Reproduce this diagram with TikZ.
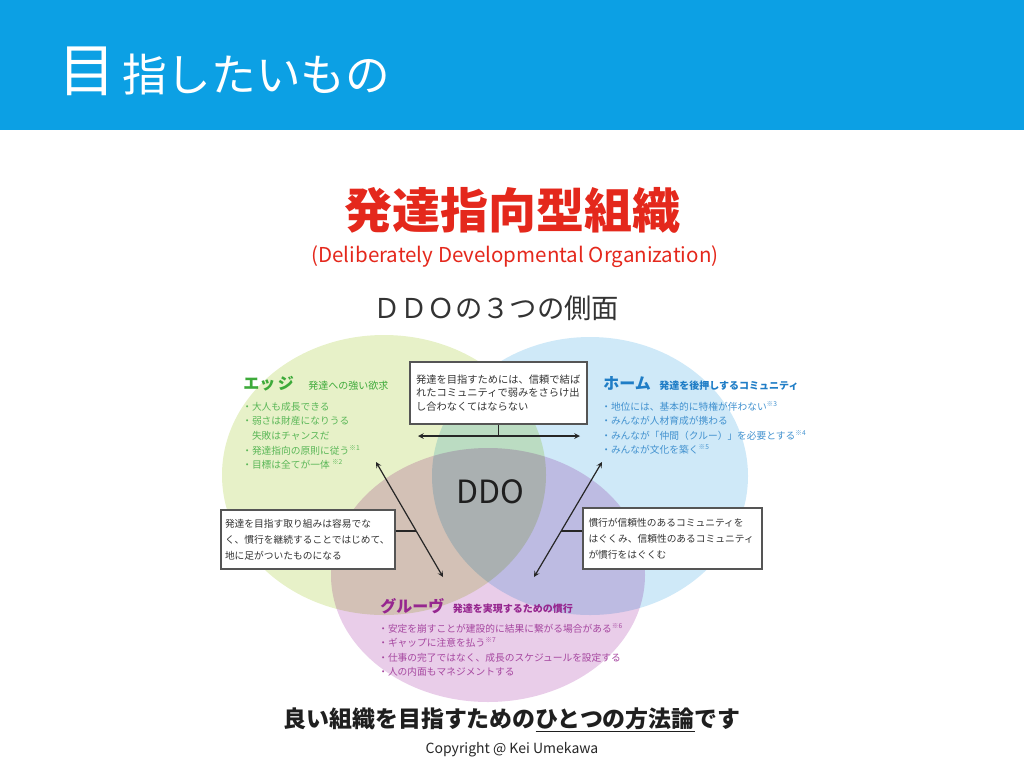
\documentclass[tikz,border=0pt]{standalone}
\usepackage{fontspec}
\setmainfont{Noto Sans CJK JP}
\usepackage{xcolor}
\usetikzlibrary{positioning,calc}

\definecolor{headblue}{HTML}{0CA0E4}
\definecolor{titlered}{HTML}{E4281C}
\definecolor{edgefill}{HTML}{E7F1C8}
\definecolor{homefill}{HTML}{CFE9F8}
\definecolor{groovefill}{HTML}{E9CDE9}
\definecolor{edgeink}{HTML}{3DAA3A}
\definecolor{homeink}{HTML}{1F7DC6}
\definecolor{grooveink}{HTML}{96268F}
\definecolor{boxline}{HTML}{555555}

\tikzset{
  notebox/.style={draw=boxline, fill=white, line width=0.8pt, inner sep=0pt,
    align=left, font=\fontsize{7.3}{12}\selectfont, text=black!80},
  dbl/.style={<->, >=stealth, line width=0.9pt, black!85},
  bullets/.style={anchor=north west, align=left, inner sep=0pt,
    font=\fontsize{7.3}{10.9}\selectfont},
}

\begin{document}
\begin{tikzpicture}[x=0.75pt,y=-0.75pt]
  \useasboundingbox (0,0) rectangle (1024,768);

  % header band
  \fill[headblue] (0,0) rectangle (1024,130);
  \node[white, anchor=base west, inner sep=0pt, font=\fontsize{43}{43}\selectfont] (headbig) at (58,91) {目};
  \node[white, anchor=base west, inner sep=0pt, font=\fontsize{33.5}{33.5}\selectfont] (headrest) at ($(headbig.base east)+(6,0)$) {指したいもの};

  % titles
  \node[titlered, font=\bfseries\fontsize{36}{36}\selectfont] (maintitle) at (512,210) {発達指向型組織};
  \node[titlered, font=\fontsize{15.4}{15.4}\selectfont] (subtitle) at (515,257) {(Deliberately Developmental Organization)};
  \node[black!80, font=\fontsize{20.5}{20.5}\selectfont] (aspects) at (496,308) {ＤＤＯの３つの側面};

  % three circles
  \begin{scope}[blend mode=multiply]
    \fill[edgefill] (384,475) ellipse [x radius=162, y radius=140];
    \fill[homefill] (590,476) ellipse [x radius=158, y radius=139];
    \fill[groovefill] (488,575) ellipse [x radius=157, y radius=127];
  \end{scope}

  \node[black!88, font=\fontsize{24}{24}\selectfont] (ddo) at (490,492) {DDO};

  % edge
  \node[edgeink, anchor=base west, inner sep=0pt, font=\bfseries\fontsize{12}{12}\selectfont] (edgetitle) at (243,389) {エッ\,ジ};
  \node[edgeink, anchor=base west, inner sep=0pt, font=\fontsize{7.5}{7.5}\selectfont] (edgesub) at ($(edgetitle.base east)+(14,0)$) {発達への強い欲求};
  \node[bullets, edgeink!85] (edgelist) at (242,402) {・大人も成長できる\\・弱さは財産になりうる\\\phantom{・}失敗はチャンスだ\\・発達指向の原則に従う\textsuperscript{\tiny ※1}\\・目標は全てが一体 \textsuperscript{\tiny ※2}};

  % home
  \node[homeink, anchor=base west, inner sep=0pt, font=\bfseries\fontsize{12}{12}\selectfont] (hometitle) at (603,389) {ホーム};
  \node[homeink, anchor=base west, inner sep=0pt, font=\bfseries\fontsize{7.5}{7.5}\selectfont] (homesub) at ($(hometitle.base east)+(8,0)$) {発達を後押しするコミュニティ};
  \node[bullets, homeink!85] (homelist) at (601,401) {・地位には、基本的に特権が伴わない\textsuperscript{\tiny ※3}\\・みんなが人材育成が携わる\\・みんなが「仲間（クルー）」を必要とする\textsuperscript{\tiny ※4}\\・みんなが文化を築く\textsuperscript{\tiny ※5}};

  % groove
  \node[grooveink, anchor=base west, inner sep=0pt, font=\bfseries\fontsize{12}{12}\selectfont] (groovetitle) at (380,612) {グルーヴ};
  \node[grooveink, anchor=base west, inner sep=0pt, font=\bfseries\fontsize{7.5}{7.5}\selectfont] (groovesub) at ($(groovetitle.base east)+(8,0)$) {発達を実現するための慣行};
  \node[bullets, grooveink!85] (groovelist) at (378,623) {・安定を崩すことが建設的に結果に繋がる場合がある\textsuperscript{\tiny ※6}\\・ギャップに注意を払う\textsuperscript{\tiny ※7}\\・仕事の完了ではなく、成長のスケジュールを設定する\\・人の内面もマネジメントする};

  % note boxes
  \node[notebox, minimum width={177*0.75pt}, minimum height={62*0.75pt}, text width={165*0.75pt},
    font=\fontsize{7.7}{10.4}\selectfont] (topbox) at (498.5,393) {発達を目指すためには、信頼で結ば\\れたコミュニティで弱みをさらけ出\\し合わなくてはならない};
  \node[notebox, minimum width={174*0.75pt}, minimum height={59*0.75pt}, text width={166*0.75pt}] (leftbox) at (308,539.5) {発達を目指す取り組みは容易でな\\く、慣行を継続することではじめて、\\地に足がついたものになる};
  \node[notebox, minimum width={179*0.75pt}, minimum height={61*0.75pt}, text width={168*0.75pt}] (rightbox) at (672.5,538.5) {慣行が信頼性のあるコミュニティを\\はぐくみ、信頼性のあるコミュニティ\\が慣行をはぐくむ};

  % connectors
  \coordinate (topL) at (418,436);
  \coordinate (topR) at (580,436);
  \draw[dbl] (topL) -- (topR);
  \draw[line width=0.8pt, black!85] (topbox.south) -- (topbox.south |- topL);

  \coordinate (edgeA) at (376,462);
  \coordinate (edgeB) at (443,577);
  \draw[dbl] (edgeA) -- (edgeB);
  \coordinate (edgeJ) at ($(edgeA)!0.6!(edgeB)$);
  \draw[line width=0.8pt, black!85] (leftbox.east |- edgeJ) -- (edgeJ);

  \coordinate (homeA) at (602,462);
  \coordinate (homeB) at (534,577);
  \draw[dbl] (homeA) -- (homeB);
  \coordinate (homeJ) at ($(homeA)!0.6!(homeB)$);
  \draw[line width=0.8pt, black!85] (rightbox.west |- homeJ) -- (homeJ);

  % footer
  \node[black!88, font=\bfseries\fontsize{17.2}{17.2}\selectfont] (summary) at (512,720) {良い組織を目指すための\underline{ひとつの方法論}です};
  \node[black!85, font=\fontsize{10.5}{10.5}\selectfont] (copyright) at (512,750) {Copyright @ Kei Umekawa};
\end{tikzpicture}
\end{document}
